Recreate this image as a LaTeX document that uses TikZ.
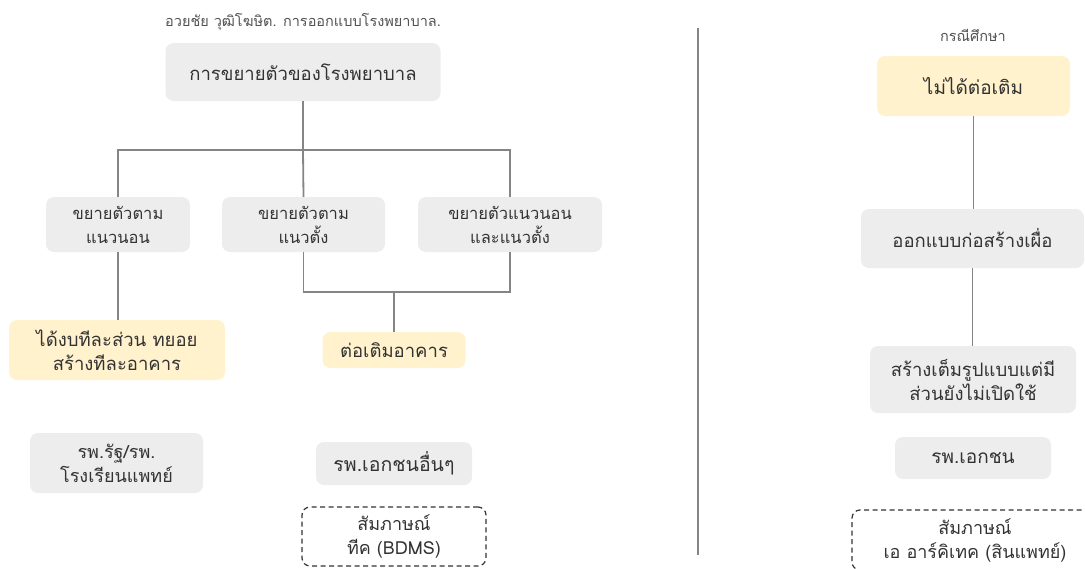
\documentclass[tikz,border=0pt]{standalone}
\usepackage{fontspec}
\newfontfamily\thaifont[Script=Thai]{Loma}
\definecolor{boxgrey}{HTML}{EDEDED}
\definecolor{boxyellow}{HTML}{FFF2CC}
\definecolor{linegrey}{HTML}{858585}
\definecolor{textdark}{HTML}{333333}
\newcommand\fsz[1]{\thaifont\fontsize{#1}{24}\selectfont}
\begin{document}
\begin{tikzpicture}[x=1pt,y=-1pt,
  every node/.style={font=\fsz{18}, text=textdark, align=center, inner sep=0pt},
  card/.style={rounded corners=8pt, fill=boxgrey},
  hl/.style={rounded corners=8pt, fill=boxyellow},
  note/.style={rounded corners=8pt, draw=textdark, dash pattern=on 5pt off 3.5pt, line width=1.2pt},
  link/.style={draw=linegrey, line width=1.8pt},
  captext/.style={font=\fsz{14.5}, text=textdark!85}]
\useasboundingbox (0,0) rectangle (1085,568);
\clip (0,0) rectangle (1085,568);

% ---- left tree: hospital expansion ----
\node[captext] (src) at (303,22) {อวยชัย วุฒิโฆษิต. การออกแบบโรงพยาบาล.};
\node[card, minimum width=275pt, minimum height=58pt, font=\fsz{18.5}] (root) at (303,72) {การขยายตัวของโรงพยาบาล};

\node[card, minimum width=144pt, minimum height=55pt, font=\fsz{16.5}] (horiz) at (118,224.5) {ขยายตัวตาม\\แนวนอน};
\node[card, minimum width=163pt, minimum height=55pt, font=\fsz{16.5}] (vert) at (303.5,224.5) {ขยายตัวตาม\\แนวตั้ง};
\node[card, minimum width=184pt, minimum height=55pt, font=\fsz{16.5}] (both) at (510,224.5) {ขยายตัวแนวนอน\\และแนวตั้ง};

\node[hl, minimum width=216pt, minimum height=60pt, font=\fsz{18.5}] (phased) at (117,350) {ได้งบทีละส่วน ทยอย\\สร้างทีละอาคาร};
\node[hl, minimum width=143pt, minimum height=36pt, font=\fsz{18.5}] (addon) at (394,350) {ต่อเติมอาคาร};

\node[card, minimum width=173pt, minimum height=60pt] (public) at (116.5,463) {รพ.รัฐ/รพ.\\โรงเรียนแพทย์};
\node[card, minimum width=156pt, minimum height=43pt, font=\fsz{19.5}] (private) at (394,463.5) {รพ.เอกชนอื่นๆ};
\node[note, minimum width=184pt, minimum height=59pt] (ivbdms) at (394,536.5) {สัมภาษณ์\\ทีค (BDMS)};

\coordinate (split) at (303,150);
\coordinate (merge) at (394,292);
\draw[link] (root.south) -- (split);
\draw[link] (split) -| (horiz.north);
\draw[link] (split) -| (both.north);
\draw[link] (split) -- (vert.north);
\draw[link] (horiz.south) -- (horiz.south |- phased.north);
\draw[link] (vert.south) |- (merge);
\draw[link] (merge) -| (both.south);
\draw[link] (merge) -- (addon.north);

% ---- divider ----
\coordinate (divtop) at (698,28);
\coordinate (divbot) at (698,555);
\draw[draw=linegrey, line width=1.5pt] (divtop) -- (divbot);

% ---- right column: case study ----
\node[captext] (case) at (973,35) {กรณีศึกษา};
\node[hl, minimum width=193pt, minimum height=60pt, font=\fsz{19}] (noadd) at (973.5,86) {ไม่ได้ต่อเติม};
\node[card, minimum width=223pt, minimum height=59pt, font=\fsz{18.5}] (reserve) at (972.5,238.5) {ออกแบบก่อสร้างเผื่อ};
\node[card, minimum width=206pt, minimum height=67pt, font=\fsz{18.5}] (full) at (973,379.5) {สร้างเต็มรูปแบบแต่มี\\ส่วนยังไม่เปิดใช้};
\node[card, minimum width=156pt, minimum height=42pt, font=\fsz{19}] (privonly) at (973,458) {รพ.เอกชน};
\node[note, minimum width=246pt, minimum height=60pt] (ivarch) at (975,540) {สัมภาษณ์\\เอ อาร์คิเทค (สินแพทย์)};

\draw[link] (noadd.south) -- (noadd.south |- reserve.north);
\draw[link] (reserve.south) -- (reserve.south |- full.north);
\end{tikzpicture}
\end{document}
